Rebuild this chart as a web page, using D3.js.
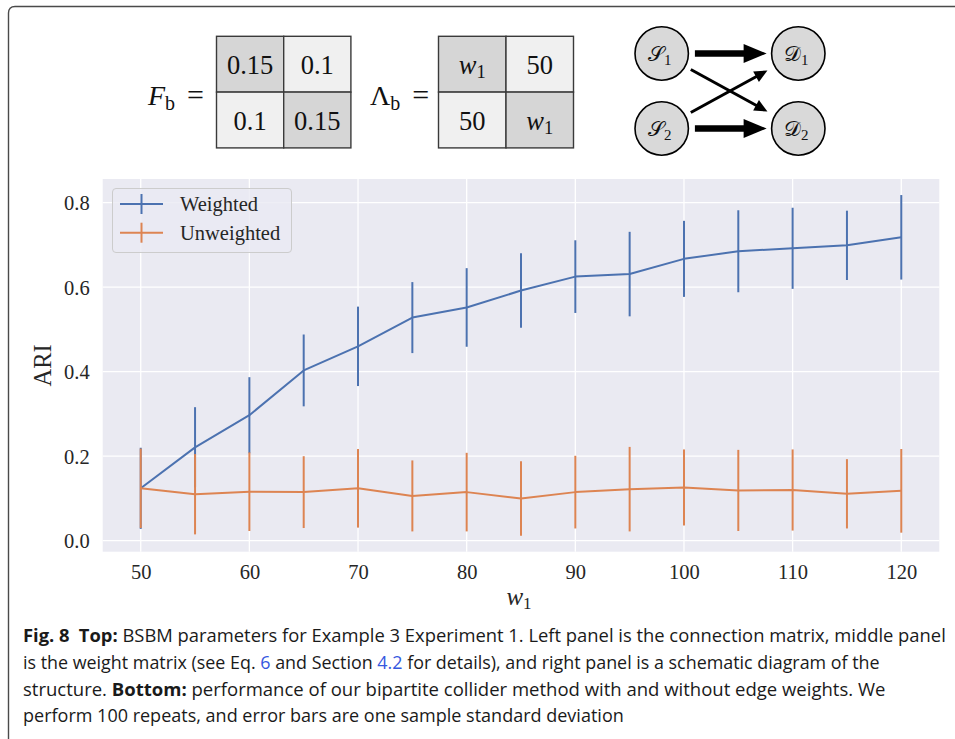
<!DOCTYPE html>
<html>
<head>
<meta charset="utf-8">
<script src="https://cdn.jsdelivr.net/npm/d3@7"></script>
<style>
  html, body { margin: 0; padding: 0; background: #ffffff; }
  svg { display: block; }
</style>
</head>
<body>
<svg id="fig" width="955" height="739"></svg>
<script>
// ---- data ----
const w1Values = [50, 55, 60, 65, 70, 75, 80, 85, 90, 95, 100, 105, 110, 115, 120];
const weightedMean = [0.124, 0.221, 0.297, 0.403, 0.460, 0.528, 0.552, 0.592, 0.625, 0.631, 0.667, 0.685, 0.692, 0.699, 0.718];
const weightedStd = [0.096, 0.095, 0.090, 0.085, 0.094, 0.084, 0.093, 0.088, 0.086, 0.100, 0.090, 0.097, 0.096, 0.082, 0.100];
const unweightedMean = [0.124, 0.110, 0.116, 0.115, 0.124, 0.106, 0.115, 0.100, 0.115, 0.122, 0.126, 0.119, 0.120, 0.111, 0.118];
const unweightedStd = [0.094, 0.095, 0.093, 0.085, 0.093, 0.084, 0.093, 0.088, 0.086, 0.100, 0.090, 0.096, 0.096, 0.082, 0.099];
const seriesNames = ["Weighted", "Unweighted"];
const xTickValues = [50, 60, 70, 80, 90, 100, 110, 120];
const yTickValues = [0.0, 0.2, 0.4, 0.6, 0.8];
const yLimits = [-0.026, 0.856];

// parameter matrices shown above the chart
const connectionMatrix = [["0.15", "0.1"], ["0.1", "0.15"]];
const weightMatrix = [["w1", "50"], ["50", "w1"]];

// ---- styles ----
const colors = { Weighted: "#4C72B0", Unweighted: "#DD8452" };
const serif = "'Liberation Serif', 'DejaVu Serif', serif";
const sans = "'Open Sans', 'Noto Sans', sans-serif";

const svg = d3.select("#fig");

// figure frame
svg.append("path")
  .attr("d", "M8.5,739 L8.5,13 Q8.5,6.5 15,6.5 L955,6.5")
  .attr("fill", "none").attr("stroke", "#4a4a4a").attr("stroke-width", 1.4);

// ---- main chart ----
const plot = { left: 102.7, right: 939.3, top: 179, bottom: 551.7 };
const xPad = 0.05 * (d3.max(w1Values) - d3.min(w1Values));
const x = d3.scaleLinear()
  .domain([d3.min(w1Values) - xPad, d3.max(w1Values) + xPad])
  .range([plot.left, plot.right]);
const y = d3.scaleLinear().domain(yLimits).range([plot.bottom, plot.top]);

svg.append("rect")
  .attr("x", plot.left).attr("y", plot.top)
  .attr("width", plot.right - plot.left).attr("height", plot.bottom - plot.top)
  .attr("fill", "#EAEAF2");

// grid
const grid = svg.append("g");
grid.selectAll("line.gx").data(xTickValues).join("line")
  .attr("x1", d => x(d)).attr("x2", d => x(d))
  .attr("y1", plot.top).attr("y2", plot.bottom)
  .attr("stroke", "#ffffff").attr("stroke-width", 1.3);
grid.selectAll("line.gy").data(yTickValues).join("line")
  .attr("x1", plot.left).attr("x2", plot.right)
  .attr("y1", d => y(d)).attr("y2", d => y(d))
  .attr("stroke", "#ffffff").attr("stroke-width", 1.3);

// axes (labels only, seaborn darkgrid style)
const xAxis = svg.append("g")
  .attr("transform", `translate(0,${plot.bottom})`)
  .call(d3.axisBottom(x).tickValues(xTickValues).tickSize(0).tickPadding(13).tickFormat(d3.format("d")));
const yAxis = svg.append("g")
  .attr("transform", `translate(${plot.left},0)`)
  .call(d3.axisLeft(y).tickValues(yTickValues).tickSize(0).tickPadding(13).tickFormat(d3.format(".1f")));
[xAxis, yAxis].forEach(a => {
  a.select(".domain").remove();
  a.selectAll("text").attr("font-family", serif).attr("font-size", 20.5).attr("fill", "#262626");
});
yAxis.selectAll("text").attr("dy", "0.34em");

// axis titles
svg.append("text")
  .attr("transform", `translate(51,${(plot.top + plot.bottom) / 2}) rotate(-90)`)
  .attr("text-anchor", "middle")
  .attr("font-family", serif).attr("font-size", 24.5).attr("fill", "#262626")
  .text("ARI");
const xTitle = svg.append("text")
  .attr("x", (plot.left + plot.right) / 2 - 2).attr("y", 605)
  .attr("text-anchor", "middle")
  .attr("font-family", serif).attr("font-size", 25).attr("fill", "#262626");
xTitle.append("tspan").attr("font-style", "italic").text("w");
xTitle.append("tspan").attr("font-size", 17).attr("dy", 4).text("1");

// series with error bars
const series = [
  { name: "Weighted", mean: weightedMean, std: weightedStd },
  { name: "Unweighted", mean: unweightedMean, std: unweightedStd }
];
const lineGen = d3.line().x(d => x(d.w)).y(d => y(d.m));
series.forEach(s => {
  const pts = w1Values.map((w, i) => ({ w, m: s.mean[i], s: s.std[i] }));
  const g = svg.append("g");
  g.append("path").datum(pts)
    .attr("d", lineGen)
    .attr("fill", "none").attr("stroke", colors[s.name]).attr("stroke-width", 2)
    .attr("stroke-linejoin", "round");
  g.selectAll("line").data(pts).join("line")
    .attr("x1", d => x(d.w)).attr("x2", d => x(d.w))
    .attr("y1", d => y(d.m - d.s)).attr("y2", d => y(d.m + d.s))
    .attr("stroke", colors[s.name]).attr("stroke-width", 2);
});

// legend
const legend = svg.append("g");
legend.append("rect")
  .attr("x", 112.5).attr("y", 188.5).attr("width", 179).attr("height", 64)
  .attr("rx", 3.5)
  .attr("fill", "#EAEAF2").attr("fill-opacity", 0.8)
  .attr("stroke", "#cccccc").attr("stroke-width", 1);
seriesNames.forEach((name, i) => {
  const cy = 204 + i * 28.7;
  legend.append("line").attr("x1", 120).attr("x2", 163).attr("y1", cy).attr("y2", cy)
    .attr("stroke", colors[name]).attr("stroke-width", 2);
  legend.append("line").attr("x1", 141.5).attr("x2", 141.5).attr("y1", cy - 10).attr("y2", cy + 10)
    .attr("stroke", colors[name]).attr("stroke-width", 2);
  legend.append("text").attr("x", 180).attr("y", cy + 7)
    .attr("font-family", serif).attr("font-size", 20.5).attr("fill", "#262626")
    .text(name);
});

// ---- parameter matrices ----
function mathLabel(xPos, yPos, sym, italic) {
  const t = svg.append("text").attr("x", xPos).attr("y", yPos)
    .attr("font-family", serif).attr("font-size", 28).attr("fill", "#111");
  t.append("tspan").attr("font-style", italic ? "italic" : "normal").text(sym);
  t.append("tspan").attr("font-size", 20).attr("dy", 5).text("b");
  t.append("tspan").attr("dy", -5).attr("dx", 12).attr("font-size", 30).text("=");
}
function drawMatrix(x0, y0, cellW, cellH, cells) {
  const g = svg.append("g");
  cells.forEach((row, r) => row.forEach((val, c) => {
    const cx = x0 + c * cellW, cy = y0 + r * cellH;
    g.append("rect").attr("x", cx).attr("y", cy).attr("width", cellW).attr("height", cellH)
      .attr("fill", r === c ? "#D6D6D6" : "#F0F0F0")
      .attr("stroke", "#3a3a3a").attr("stroke-width", 1.4);
    const t = g.append("text")
      .attr("x", cx + cellW / 2).attr("y", cy + cellH / 2 + 9.5)
      .attr("text-anchor", "middle")
      .attr("font-family", serif).attr("font-size", 26.5).attr("fill", "#111");
    if (val === "w1") {
      t.append("tspan").attr("font-style", "italic").text("w");
      t.append("tspan").attr("font-size", 18.5).attr("dy", 4).text("1");
    } else {
      t.text(val);
    }
  }));
}
mathLabel(148, 105, "F", true);
drawMatrix(216.5, 36.3, 67.2, 55.8, connectionMatrix);
mathLabel(370, 105, "\u039B", false);
drawMatrix(438.5, 36.3, 67.5, 55.8, weightMatrix);

// ---- schematic of the bipartite structure ----
const nodeR = 26.7;
const nodes = [
  { k: "1", cx: 661.7, cy: 53.5, sym: "\uD835\uDCAE" },
  { k: "2", cx: 661.7, cy: 128.5, sym: "\uD835\uDCAE" },
  { k: "1", cx: 798.3, cy: 53.5, sym: "\uD835\uDC9F" },
  { k: "2", cx: 798.3, cy: 128.5, sym: "\uD835\uDC9F" }
];
const edges = [
  { from: 0, to: 2, thick: true },
  { from: 1, to: 3, thick: true },
  { from: 0, to: 3, thick: false },
  { from: 1, to: 2, thick: false }
];
const diag = svg.append("g");
edges.forEach(e => {
  const a = nodes[e.from], b = nodes[e.to];
  const dx = b.cx - a.cx, dy = b.cy - a.cy, len = Math.hypot(dx, dy);
  const ux = dx / len, uy = dy / len;
  const startGap = nodeR + 6.5, endGap = nodeR + (e.thick ? 5 : 8.5);
  const sx = a.cx + ux * startGap, sy = a.cy + uy * startGap;
  const ex = b.cx - ux * endGap, ey = b.cy - uy * endGap;
  const headL = e.thick ? 23 : 13, headW = e.thick ? 9.5 : 6;
  const bx = ex - ux * headL, by = ey - uy * headL;
  diag.append("line").attr("x1", sx).attr("y1", sy).attr("x2", bx + ux * 1).attr("y2", by + uy * 1)
    .attr("stroke", "#000").attr("stroke-width", e.thick ? 6.5 : 3);
  diag.append("path")
    .attr("d", `M${ex},${ey} L${bx - uy * headW},${by + ux * headW} L${bx + uy * headW},${by - ux * headW} Z`)
    .attr("fill", "#000");
});
nodes.forEach(n => {
  diag.append("circle").attr("cx", n.cx).attr("cy", n.cy).attr("r", nodeR)
    .attr("fill", "#D9D9D9").attr("stroke", "#000").attr("stroke-width", 1.6);
  const t = diag.append("text").attr("x", n.cx - 2).attr("y", n.cy + 7)
    .attr("text-anchor", "middle")
    .attr("font-family", "'DejaVu Sans', 'DejaVu Serif', serif").attr("font-size", 21).attr("fill", "#111");
  t.append("tspan").text(n.sym);
  t.append("tspan").attr("font-family", serif).attr("font-size", 15).attr("dy", 4).text(n.k);
});

// ---- caption ----
const captionLines = [
  { target: 923, parts: [{ t: "Fig. 8", b: true }, { t: "\u2002Top:", b: true }, { t: " BSBM parameters for Example 3 Experiment 1. Left panel is the connection matrix, middle panel" }] },
  { target: 857, parts: [{ t: "is the weight matrix (see Eq. " }, { t: "6", link: true }, { t: " and Section " }, { t: "4.2", link: true }, { t: " for details), and right panel is a schematic diagram of the" }] },
  { target: 863, parts: [{ t: "structure. " }, { t: "Bottom:", b: true }, { t: " performance of our bipartite collider method with and without edge weights. We" }] },
  { target: 601, parts: [{ t: "perform 100 repeats, and error bars are one sample standard deviation" }] }
];
captionLines.forEach((line, i) => {
  const t = svg.append("text")
    .attr("font-family", sans).attr("font-size", 18).attr("fill", "#1a1a1a")
    .style("white-space", "pre");
  line.parts.forEach(p => {
    const ts = t.append("tspan").text(p.t);
    if (p.b) ts.attr("font-weight", 700);
    if (p.link) ts.attr("fill", "#3558e0");
  });
  const w = t.node().getBBox().width;
  t.attr("transform", `translate(23,${642 + i * 26.8}) scale(${line.target / w},1)`);
});
</script>
</body>
</html>
